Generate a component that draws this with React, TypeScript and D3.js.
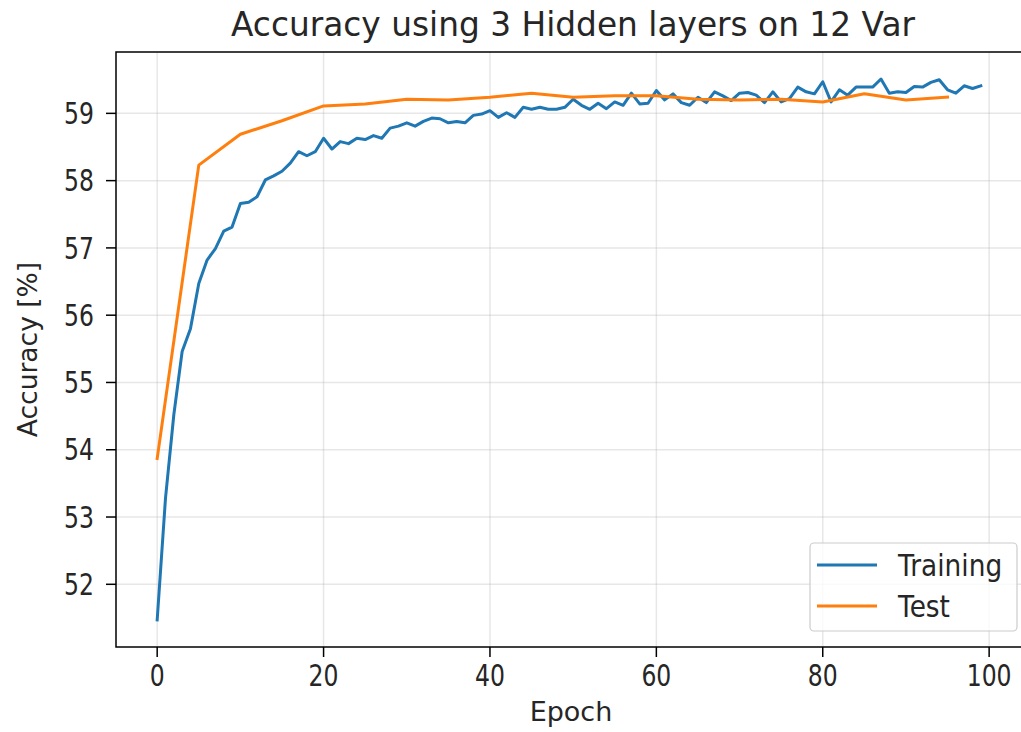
import React from "react";
import * as d3 from "d3";

const trainAcc: number[] = [
  51.47, 53.28, 54.52, 55.46, 55.80, 56.47, 56.82, 56.99, 57.25, 57.31,
  57.66, 57.68, 57.76, 58.01, 58.07, 58.14, 58.26, 58.43, 58.37, 58.43,
  58.63, 58.47, 58.58, 58.55, 58.63, 58.61, 58.67, 58.63, 58.78, 58.81,
  58.86, 58.81, 58.88, 58.93, 58.92, 58.86, 58.88, 58.86, 58.97, 58.99,
  59.04, 58.94, 59.01, 58.94, 59.09, 59.06, 59.09, 59.06, 59.06, 59.09,
  59.21, 59.12, 59.06, 59.15, 59.07, 59.17, 59.12, 59.30, 59.14, 59.15,
  59.34, 59.20, 59.29, 59.16, 59.12, 59.24, 59.16, 59.32, 59.26, 59.19,
  59.30, 59.31, 59.27, 59.16, 59.32, 59.17, 59.22, 59.39, 59.32, 59.29,
  59.47, 59.17, 59.35, 59.27, 59.39, 59.39, 59.39, 59.51, 59.30, 59.32,
  59.31, 59.40, 59.39, 59.46, 59.50, 59.35, 59.30, 59.41, 59.37, 59.41,
];
const trainEpochs: number[] = trainAcc.map((_, i) => i);

const testEpochs: number[] = [0, 5, 10, 15, 20, 25, 30, 35, 40, 45, 50, 55, 60, 65, 70, 75, 80, 85, 90, 95];
const testAcc: number[] = [
  53.87, 58.23, 58.69, 58.89, 59.11, 59.14, 59.21, 59.20, 59.24, 59.30,
  59.24, 59.26, 59.26, 59.21, 59.20, 59.21, 59.17, 59.29, 59.20, 59.24,
];

const xTicks: number[] = [0, 20, 40, 60, 80, 100];
const yTicks: number[] = [52, 53, 54, 55, 56, 57, 58, 59];

const title = "Accuracy using 3 Hidden layers on 12 Var";
const xLabel = "Epoch";
const yLabel = "Accuracy [%]";
const seriesNames = ["Training", "Test"];
const colors = ["#1f77b4", "#ff7f0e"];

const W = 1021;
const H = 732;
const L = 116;
const R = 1022;
const T = 52;
const B = 647;
const FONT = "'DejaVu Sans', sans-serif";
const TICK_FS = 23.5;
const TICK_SY = 1.25;
const LEG_FS = 26.4;
const LEG_SY = 1.14;
const TEXT_C = "#262626";

export default function App() {
  const xMin = 0, xMax = 99;
  const xPad = (xMax - xMin) * 0.05;
  const x = d3.scaleLinear().domain([xMin - xPad, xMax + xPad]).range([L, R]);
  const all = [...trainAcc, ...testAcc];
  const yLo = d3.min(all) as number;
  const yHi = d3.max(all) as number;
  const yPad = (yHi - yLo) * 0.05;
  const y = d3.scaleLinear().domain([yLo - yPad, yHi + yPad]).range([B, T]);

  const line = d3
    .line<[number, number]>()
    .x((d) => x(d[0]))
    .y((d) => y(d[1]));

  const trainPath = line(trainEpochs.map((e, i) => [e, trainAcc[i]]) as [number, number][]) || "";
  const testPath = line(testEpochs.map((e, i) => [e, testAcc[i]]) as [number, number][]) || "";

  const legX = 810, legY = 543, legW = 207, legH = 88;
  const digitHalf = 0.365 * TICK_FS * TICK_SY;

  return (
    <svg
      width={W}
      height={H}
      style={{ position: "absolute", left: 0, top: 0, background: "#fff" }}
      fontFamily={FONT}
    >
      <rect x={0} y={0} width={W} height={H} fill="#fff" />
      <defs>
        <clipPath id="clip">
          <rect x={L} y={T} width={R - L} height={B - T} />
        </clipPath>
      </defs>
      {/* grid */}
      {xTicks.map((t) => (
        <line key={"gx" + t} x1={x(t)} x2={x(t)} y1={T} y2={B} stroke="#b0b0b0" strokeOpacity={0.3} strokeWidth={1.5} />
      ))}
      {yTicks.map((t) => (
        <line key={"gy" + t} x1={L} x2={R} y1={y(t)} y2={y(t)} stroke="#b0b0b0" strokeOpacity={0.3} strokeWidth={1.5} />
      ))}
      {/* lines */}
      <g clipPath="url(#clip)">
        <path d={trainPath} fill="none" stroke={colors[0]} strokeWidth={3} strokeLinejoin="round" strokeLinecap="square" />
        <path d={testPath} fill="none" stroke={colors[1]} strokeWidth={3} strokeLinejoin="round" strokeLinecap="square" />
      </g>
      {/* spines */}
      <rect x={L} y={T} width={R - L} height={B - T} fill="none" stroke="#000" strokeWidth={1.5} />
      {/* x ticks */}
      {xTicks.map((t) => (
        <g key={"xt" + t}>
          <line x1={x(t)} x2={x(t)} y1={B} y2={B + 10} stroke="#000" strokeWidth={1.5} />
          <text
            transform={`translate(${x(t)}, 686) scale(1, ${TICK_SY})`}
            textAnchor="middle"
            fontSize={TICK_FS}
            fill={TEXT_C}
          >
            {t}
          </text>
        </g>
      ))}
      {/* y ticks */}
      {yTicks.map((t) => (
        <g key={"yt" + t}>
          <line x1={L - 10} x2={L} y1={y(t)} y2={y(t)} stroke="#000" strokeWidth={1.5} />
          <text
            transform={`translate(${L - 22}, ${y(t) + digitHalf}) scale(1, ${TICK_SY})`}
            textAnchor="end"
            fontSize={TICK_FS}
            fill={TEXT_C}
          >
            {t}
          </text>
        </g>
      ))}
      {/* labels */}
      <text x={571} y={721} textAnchor="middle" fontSize={27} fill={TEXT_C}>
        {xLabel}
      </text>
      <text transform={`translate(37, ${(T + B) / 2}) rotate(-90)`} textAnchor="middle" fontSize={26.5} fill={TEXT_C}>
        {yLabel}
      </text>
      <text x={573} y={36} textAnchor="middle" fontSize={32.8} fill={TEXT_C}>
        {title}
      </text>
      {/* legend */}
      <rect x={legX} y={legY} width={legW} height={legH} rx={4} fill="#fff" fillOpacity={0.8} stroke="#cccccc" strokeWidth={1.2} />
      {seriesNames.map((n, i) => (
        <g key={n}>
          <line x1={legX + 7} x2={legX + 67} y1={565 + i * 41} y2={565 + i * 41} stroke={colors[i]} strokeWidth={3} />
          <text
            transform={`translate(${legX + 88}, ${565 + i * 41 + 0.365 * LEG_FS * LEG_SY}) scale(1, ${LEG_SY})`}
            fontSize={LEG_FS}
            fill={TEXT_C}
          >
            {n}
          </text>
        </g>
      ))}
    </svg>
  );
}
